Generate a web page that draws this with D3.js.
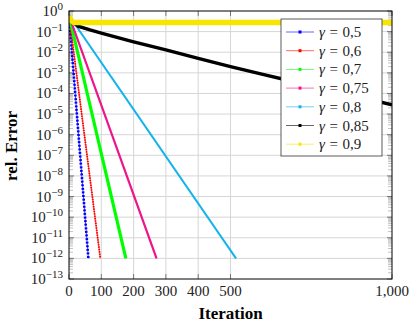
<!DOCTYPE html>
<html>
<head>
<meta charset="utf-8">
<script src="https://cdn.jsdelivr.net/npm/d3@7"></script>
<style>
  body { margin: 0; background: #fff; }
  text { font-family: "Liberation Serif", "Times New Roman", serif; }
</style>
</head>
<body>
<div id="chart"></div>
<script>
// legend labels and colours
const gammaLabels = ["0,5", "0,6", "0,7", "0,75", "0,8", "0,85", "0,9"];
const seriesColors = ["#0000ff", "#ff0000", "#00ff00", "#f0148c", "#14b4eb", "#000000", "#f7e600"];

// [iteration, rel. error]
const g05 = [[0, 0.6], [60, 1e-12]];
const g06 = [[0, 0.6], [97, 1e-12]];
const g07 = [[0, 0.6], [176, 1e-12]];
const g075 = [[0, 0.6], [271, 1e-12]];
const g08 = [[0, 0.6], [517, 1e-12]];
const g085 = [[0, 0.6], [10, 0.3], [30, 0.18], [65, 0.12], [100, 0.085], [200, 0.032],
              [300, 0.013], [400, 0.005], [500, 0.002], [600, 8.5e-4], [700, 3.6e-4],
              [800, 1.6e-4], [900, 6.6e-5], [1000, 2.8e-5]];
const g09 = [[0, 0.6], [5, 0.36], [15, 0.28], [1000, 0.28]];

const xTicks = [0, 100, 200, 300, 400, 500, 1000];
const yExponents = d3.range(0, -14, -1);

const width = 415, height = 324;
const margin = { left: 69, right: 23, top: 11, bottom: 45 };

const svg = d3.select("#chart").append("svg")
    .attr("width", width)
    .attr("height", height);

const x = d3.scaleLinear().domain([0, 1000]).range([margin.left, width - margin.right]);
const y = d3.scaleLog().domain([1e-13, 1]).range([height - margin.bottom, margin.top]);

// grid
const grid = svg.append("g").attr("stroke", "#d6d6d6").attr("stroke-width", 1);
grid.selectAll(".gx").data(xTicks.slice(1, -1)).enter().append("line")
    .attr("x1", d => x(d)).attr("x2", d => x(d))
    .attr("y1", y.range()[0]).attr("y2", y.range()[1]);
grid.selectAll(".gy").data(yExponents.slice(1, -1)).enter().append("line")
    .attr("x1", x.range()[0]).attr("x2", x.range()[1])
    .attr("y1", d => y(Math.pow(10, d))).attr("y2", d => y(Math.pow(10, d)));

// minor ticks on both y sides
const minor = [];
yExponents.slice(1).forEach(e => d3.range(2, 10).forEach(m => minor.push(m * Math.pow(10, e))));
const minorG = svg.append("g").attr("stroke", "#999").attr("stroke-width", 0.6);
[[x.range()[0], 4], [x.range()[1], -4]].forEach(([x0, len]) => {
    minorG.selectAll(null).data(minor).enter().append("line")
        .attr("x1", x0).attr("x2", x0 + len)
        .attr("y1", d => y(d)).attr("y2", d => y(d));
});

// major ticks
const majorG = svg.append("g").attr("stroke", "#333").attr("stroke-width", 0.6);
[[x.range()[0], 5], [x.range()[1], -5]].forEach(([x0, len]) => {
    majorG.selectAll(null).data(yExponents).enter().append("line")
        .attr("x1", x0).attr("x2", x0 + len)
        .attr("y1", d => y(Math.pow(10, d))).attr("y2", d => y(Math.pow(10, d)));
});
[[y.range()[0], -5], [y.range()[1], 5]].forEach(([y0, len]) => {
    majorG.selectAll(null).data(xTicks).enter().append("line")
        .attr("x1", d => x(d)).attr("x2", d => x(d))
        .attr("y1", y0).attr("y2", y0 + len);
});

// clip
svg.append("clipPath").attr("id", "clip").append("rect")
    .attr("x", x.range()[0]).attr("y", y.range()[1])
    .attr("width", x.range()[1] - x.range()[0])
    .attr("height", y.range()[0] - y.range()[1]);

const line = d3.line().x(d => x(d[0])).y(d => y(d[1]));
const plot = svg.append("g").attr("clip-path", "url(#clip)");

// stroke style per series (the dense marks are imitated by dashes)
const series = [g05, g06, g07, g075, g08, g085, g09];
const styles = [
    { w: 2.6, dash: "2,1.6" },
    { w: 1.8, dash: "1.4,1" },
    { w: 3.2, dash: null },
    { w: 2.2, dash: null },
    { w: 2, dash: null },
    { w: 3.4, dash: null },
    { w: 5.5, dash: null }
];
series.forEach((s, i) => {
    plot.append("path").datum(s)
        .attr("fill", "none")
        .attr("stroke", seriesColors[i])
        .attr("stroke-width", 0.7)
        .attr("d", line);
    plot.append("path").datum(s)
        .attr("fill", "none")
        .attr("stroke", seriesColors[i])
        .attr("stroke-width", styles[i].w)
        .attr("stroke-dasharray", styles[i].dash)
        .attr("d", line);
});

// frame
svg.append("rect")
    .attr("x", x.range()[0]).attr("y", y.range()[1])
    .attr("width", x.range()[1] - x.range()[0])
    .attr("height", y.range()[0] - y.range()[1])
    .attr("fill", "none").attr("stroke", "#000").attr("stroke-width", 1);

// y tick labels
const yl = svg.append("g").attr("font-size", 15).attr("fill", "#222").attr("text-anchor", "end");
yExponents.forEach(e => {
    const t = yl.append("text").attr("x", 63).attr("y", y(Math.pow(10, e)) + 5);
    t.append("tspan").text("10");
    t.append("tspan").attr("dy", -6).attr("font-size", 11)
        .text(e === 0 ? "0" : "\u2212" + Math.abs(e));
});

// x tick labels
svg.append("g").attr("font-size", 15).attr("fill", "#222").attr("text-anchor", "middle")
    .selectAll("text").data(xTicks).enter().append("text")
    .attr("x", d => x(d)).attr("y", 296)
    .text(d => d3.format(",")(d));

// axis titles
svg.append("text").attr("x", (x.range()[0] + x.range()[1]) / 2).attr("y", 319)
    .attr("text-anchor", "middle").attr("font-weight", "bold").attr("font-size", 17)
    .text("Iteration");
svg.append("text").attr("transform", "translate(17,146) rotate(-90)")
    .attr("text-anchor", "middle").attr("font-weight", "bold").attr("font-size", 17)
    .text("rel. Error");

// legend
const lg = svg.append("g").attr("transform", "translate(281,19)");
lg.append("rect").attr("width", 101).attr("height", 137)
    .attr("fill", "#fff").attr("stroke", "#333").attr("stroke-width", 0.8);
gammaLabels.forEach((g, i) => {
    const cy = 13 + i * 18.7;
    lg.append("line").attr("x1", 5).attr("x2", 33).attr("y1", cy).attr("y2", cy)
        .attr("stroke", seriesColors[i]).attr("stroke-width", 0.8).attr("opacity", 0.75);
    lg.append("rect").attr("x", 17.5).attr("y", cy - 1.5).attr("width", 3).attr("height", 3)
        .attr("fill", seriesColors[i]);
    const t = lg.append("text").attr("x", 38).attr("y", cy + 5).attr("font-size", 15).attr("fill", "#222");
    t.append("tspan").attr("font-style", "italic").text("\u03b3");
    t.append("tspan").attr("dx", 4.5).text("=");
    t.append("tspan").attr("dx", 4.5).text(g);
});
</script>
</body>
</html>
